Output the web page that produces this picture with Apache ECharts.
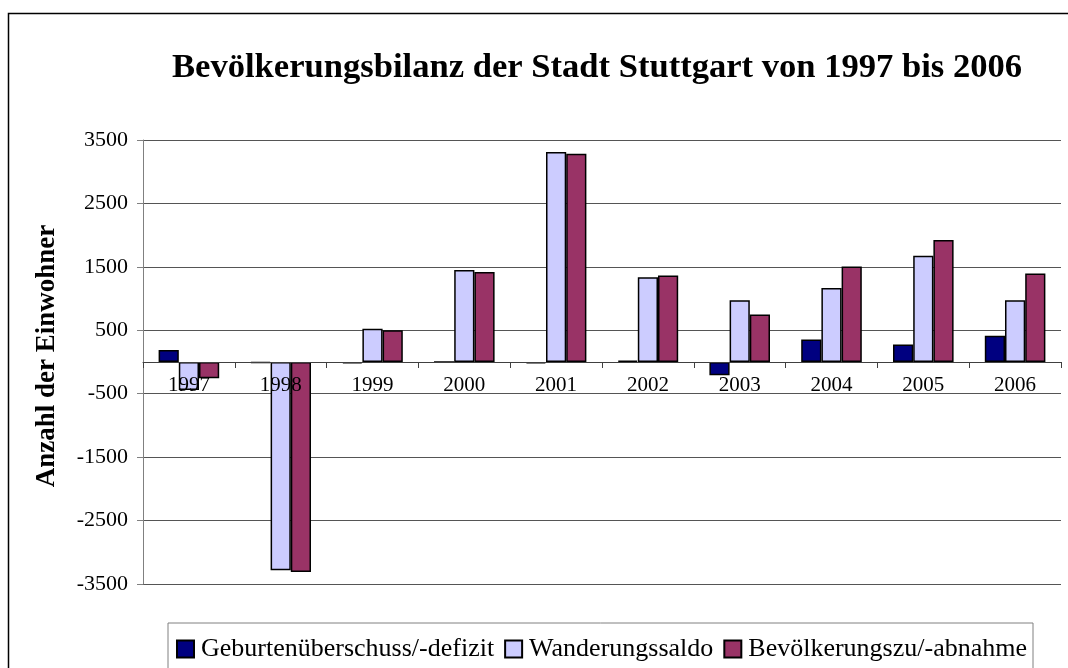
<!DOCTYPE html>
<html>
<head>
<meta charset="utf-8">
<script src="https://cdn.jsdelivr.net/npm/echarts@6/dist/echarts.min.js"></script>
<style>
  html, body { margin: 0; padding: 0; background: #fff; }
  #chart { width: 1068px; height: 668px; }
</style>
</head>
<body>
<div id="chart"></div>
<script>
// Bevölkerungsbilanz Stuttgart 1997–2006
const years = ['1997', '1998', '1999', '2000', '2001', '2002', '2003', '2004', '2005', '2006'];
const geburten = [190, -15, -20, 0, -20, 20, -210, 355, 275, 415];
const wanderung = [-440, -3285, 525, 1450, 3310, 1335, 975, 1165, 1675, 975];
const bevoelkerung = [-255, -3310, 500, 1420, 3285, 1365, 750, 1505, 1925, 1395];
const seriesNames = ['Geburtenüberschuss/-defizit', 'Wanderungssaldo', 'Bevölkerungszu/-abnahme'];
const seriesColors = ['#000080', '#CCCCFF', '#993366'];

const Y_MIN = -3500, Y_MAX = 3500;
const FONT = "'Liberation Serif', 'Times New Roman', serif";

// Rasterfläche
const GRID = { left: 143, right: 7, top: 140, bottom: 84 };
const plotH = 668 - GRID.top - GRID.bottom;
// x-Achse sitzt auf der Nulllinie: Versatz nach oben relativ zum unteren Rand
const zeroOffset = -plotH * (0 - Y_MIN) / (Y_MAX - Y_MIN);

const chart = echarts.init(document.getElementById('chart'), null, { renderer: 'canvas' });

const makeBar = (name, data, color) => ({
  name,
  type: 'bar',
  data,
  barGap: '0%',
  barCategoryGap: '34%',
  itemStyle: { color, borderColor: '#000', borderWidth: 1.5 },
  emphasis: { disabled: true },
});

chart.setOption({
  backgroundColor: '#fff',
  animation: false,
  color: seriesColors,
  textStyle: { fontFamily: FONT },

  graphic: [{
    type: 'rect',
    shape: { x: 8.5, y: 13.5, width: 1100, height: 700 },
    style: { fill: 'none', stroke: '#000', lineWidth: 1.5 },
    silent: true,
    z: -1,
  }],

  title: {
    text: 'Bevölkerungsbilanz der Stadt Stuttgart von 1997 bis 2006',
    left: 172,
    top: 51,
    padding: 0,
    textStyle: { fontFamily: FONT, fontSize: 34.6, fontWeight: 'bold', color: '#000' },
  },

  grid: { ...GRID, containLabel: false },

  legend: {
    left: 168,
    top: 623,
    padding: [13, 6, 30, 8],
    itemGap: 10,
    itemWidth: 17,
    itemHeight: 17,
    icon: 'rect',
    borderColor: '#808080',
    borderWidth: 1,
    selectedMode: false,
    textStyle: { fontFamily: FONT, fontSize: 26, color: '#000', padding: [0, 0, 0, 2] },
    data: seriesNames,
  },

  xAxis: {
    type: 'category',
    data: years,
    offset: zeroOffset,
    z: 5,
    axisLine: { onZero: false, lineStyle: { color: '#404040', width: 1 } },
    axisTick: { show: true, length: 6, lineStyle: { color: '#404040' } },
    axisLabel: { color: '#000', fontFamily: FONT, fontSize: 21, margin: 13 },
    splitLine: { show: false },
  },

  yAxis: {
    type: 'value',
    min: Y_MIN,
    max: Y_MAX,
    interval: 1000,
    name: 'Anzahl der Einwohner',
    nameLocation: 'middle',
    nameRotate: 90,
    nameGap: 82,
    nameTextStyle: { fontFamily: FONT, fontSize: 27, fontWeight: 'bold', color: '#000', padding: [0, 0, 0, 12] },
    axisLine: { show: true, lineStyle: { color: '#808080', width: 1 } },
    axisTick: { show: true, length: 6, lineStyle: { color: '#808080' } },
    axisLabel: { color: '#000', fontFamily: FONT, fontSize: 22, margin: 15, formatter: v => String(v) },
    splitLine: { lineStyle: { color: '#555', width: 1 } },
  },

  series: [
    makeBar(seriesNames[0], geburten, seriesColors[0]),
    makeBar(seriesNames[1], wanderung, seriesColors[1]),
    makeBar(seriesNames[2], bevoelkerung, seriesColors[2]),
  ],
});
</script>
</body>
</html>
